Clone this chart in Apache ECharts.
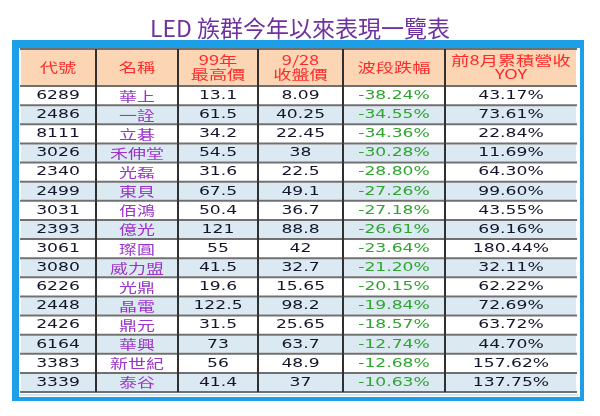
<!DOCTYPE html>
<html><head><meta charset="utf-8">
<script src="https://cdn.jsdelivr.net/npm/echarts@6/dist/echarts.min.js"></script>
<style>html,body{margin:0;padding:0;background:#fff}#c{width:600px;height:416px}</style>
</head><body><div id="c"></div>
<script>
// ---- data ----
const titleText = 'LED 族群今年以來表現一覽表';
const headers = ['代號', '名稱', '99年\n最高價', '9/28\n收盤價', '波段跌幅', '前8月累積營收\nYOY'];
const codes = ['6289','2486','8111','3026','2340','2499','3031','2393','3061','3080','6226','2448','2426','6164','3383','3339'];
const names = ['華上','一詮','立碁','禾伸堂','光磊','東貝','佰鴻','億光','璨圓','威力盟','光鼎','晶電','鼎元','華興','新世紀','泰谷'];
const high99 = [13.1, 61.5, 34.2, 54.5, 31.6, 67.5, 50.4, 121, 55, 41.5, 19.6, 122.5, 31.5, 73, 56, 41.4];
const close928 = [8.09, 40.25, 22.45, 38, 22.5, 49.1, 36.7, 88.8, 42, 32.7, 15.65, 98.2, 25.65, 63.7, 48.9, 37];
const drop = [-38.24, -34.55, -34.36, -30.28, -28.80, -27.26, -27.18, -26.61, -23.64, -21.20, -20.15, -19.84, -18.57, -12.74, -12.68, -10.63];
const yoy = [43.17, 73.61, 22.84, 11.69, 64.30, 99.60, 43.55, 69.16, 180.44, 32.11, 62.22, 72.69, 63.72, 44.70, 157.62, 137.75];

// ---- layout / style ----
const colEdges = [0, 76, 158, 238, 323, 425, 557];
const TW = 557;
const pct = v => v.toFixed(2) + '%';
const columns = [
  { vals: codes, fmt: v => v, color: '#14142a', cjk: false },
  { vals: names, fmt: v => v, color: '#9b34c8', cjk: true },
  { vals: high99, fmt: v => String(v), color: '#14142a', cjk: false },
  { vals: close928, fmt: v => String(v), color: '#14142a', cjk: false },
  { vals: drop, fmt: pct, color: '#2fa52f', cjk: false },
  { vals: yoy, fmt: pct, color: '#14142a', cjk: false }
];
const NUM_FONT = '13px "DejaVu Sans"';
const CJK_FONT = '13px "Noto Sans CJK TC"';

const chart = echarts.init(document.getElementById('c'), null, { renderer: 'canvas', width: 600, height: 416 });

function cellGroup(api, c, r, bg, textEl, isLastRow) {
  const p0 = api.coord([colEdges[c], r]);
  const p1 = api.coord([colEdges[c + 1], r]);
  const h = api.size([0, 1])[1];
  const x0 = p0[0], x1 = p1[0], yc = p0[1];
  const yt = yc - h / 2, yb = yc + h / 2;
  const children = [
    { type: 'rect', shape: { x: x0 + 1, y: yt + 1, width: x1 - x0 - 2, height: h - 2 }, style: { fill: bg } },
    Object.assign({ x: (x0 + x1) / 2, y: yc, z2: 5 }, textEl),
    { type: 'line', z2: 10, shape: { x1: x0, y1: yt, x2: x1, y2: yt }, style: { stroke: '#707070', lineWidth: 2 } }
  ];
  if (c > 0) children.push({ type: 'line', z2: 11, shape: { x1: x0, y1: yt, x2: x0, y2: yb }, style: { stroke: '#303030', lineWidth: 2 } });
  if (isLastRow) children.push({ type: 'line', z2: 10, shape: { x1: x0, y1: yb, x2: x1, y2: yb }, style: { stroke: '#707070', lineWidth: 2 } });
  return { type: 'group', children };
}

const headerData = headers.map((h, i) => [i, 0]);
const bodyData = [];
codes.forEach((code, r) => { for (let c = 0; c < columns.length; c++) bodyData.push([c, r]); });

chart.setOption({
  animation: false,
  backgroundColor: '#ffffff',
  title: {
    text: titleText, left: 'center', top: 12,
    textStyle: { fontFamily: 'Noto Sans CJK TC', fontSize: 23, fontWeight: 'normal', color: '#7030a0' }
  },
  graphic: [
    { type: 'rect', z: -10, shape: { x: 12, y: 40, width: 572, height: 361 }, style: { fill: '#1c9fe6' } },
    { type: 'rect', z: -9, shape: { x: 19, y: 48, width: 561, height: 349 }, style: { fill: '#ffffff' } },
    { type: 'line', z: -8, shape: { x1: 20, y1: 395, x2: 578, y2: 395 }, style: { stroke: '#a9cde9', lineWidth: 1 } }
  ],
  grid: [
    { left: 20, top: 49, width: TW, height: 37 },
    { left: 20, top: 86, width: TW, height: 306 }
  ],
  xAxis: [
    { type: 'value', gridIndex: 0, min: 0, max: TW, show: false },
    { type: 'value', gridIndex: 1, min: 0, max: TW, show: false }
  ],
  yAxis: [
    { type: 'category', gridIndex: 0, data: ['header'], show: false },
    { type: 'category', gridIndex: 1, data: codes, inverse: true, show: false }
  ],
  series: [
    {
      type: 'custom', xAxisIndex: 0, yAxisIndex: 0, data: headerData,
      renderItem: (params, api) => {
        const c = api.value(0);
        return cellGroup(api, c, 0, '#fcd5b4', {
          type: 'text', scaleX: 1.4,
          style: { text: headers[c], x: 0, y: 0, align: 'center', verticalAlign: 'middle', font: CJK_FONT, fill: '#ff2a2a', lineHeight: 14 }
        }, false);
      }
    },
    {
      type: 'custom', xAxisIndex: 1, yAxisIndex: 1, data: bodyData,
      renderItem: (params, api) => {
        const c = api.value(0), r = api.value(1);
        const col = columns[c];
        const bg = r % 2 === 0 ? '#ffffff' : '#dbe9f2';
        return cellGroup(api, c, r, bg, {
          type: 'text', scaleX: col.cjk ? 1.38 : 1.32,
          style: { text: col.fmt(col.vals[r]), x: 0, y: 0, align: 'center', verticalAlign: 'middle', font: col.cjk ? CJK_FONT : NUM_FONT, fill: col.color }
        }, r === codes.length - 1);
      }
    }
  ]
});
</script>
</body></html>
